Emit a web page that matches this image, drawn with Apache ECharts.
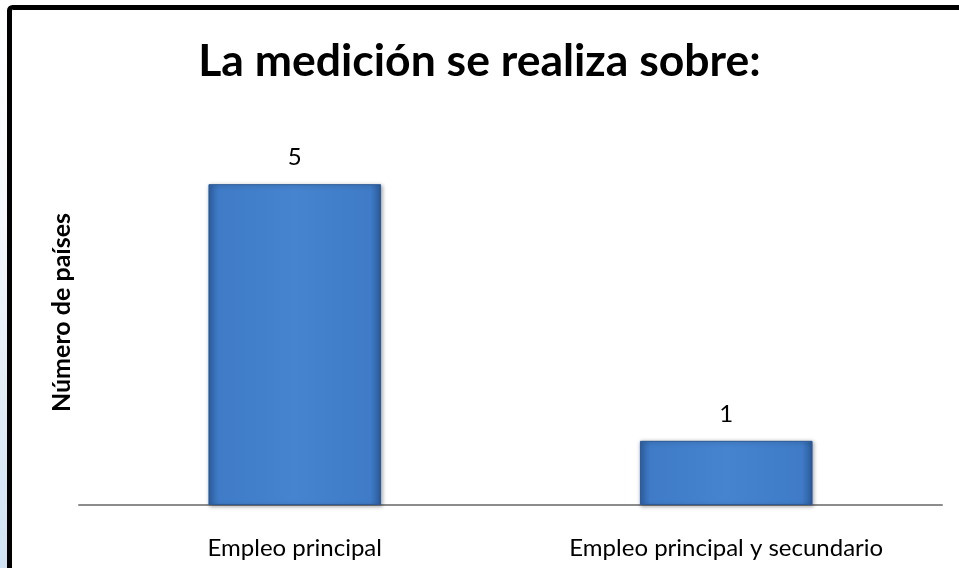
<!DOCTYPE html>
<html>
<head>
<meta charset="utf-8">
<script src="https://cdn.jsdelivr.net/npm/echarts@6/dist/echarts.min.js"></script>
<style>
html,body{margin:0;padding:0;background:#fff;}
#chart{width:959px;height:568px;}
</style>
</head>
<body>
<div id="chart"></div>
<script>
const titleText = 'La medición se realiza sobre:';
const yAxisName = 'Número de países';
const categories = ['Empleo principal', 'Empleo principal y secundario'];
const values = [5, 1];

const chart = echarts.init(document.getElementById('chart'));
const FONT = 'Lato';
const barGrad = new echarts.graphic.LinearGradient(0, 0, 1, 0, [
  {offset: 0, color: '#2f62a6'},
  {offset: 0.06, color: '#3f7bc6'},
  {offset: 0.5, color: '#4684d0'},
  {offset: 0.94, color: '#3f7bc6'},
  {offset: 1, color: '#2c5b9c'}
]);
chart.setOption({
  animation: false,
  backgroundColor: '#ffffff',
  graphic: [
    {type: 'rect', left: 0, top: 0, shape: {x: 0, y: 0, width: 8, height: 568},
     style: {fill: new echarts.graphic.LinearGradient(0, 0, 0, 1, [
       {offset: 0, color: '#ffffff'}, {offset: 0.4, color: '#f4f7fc'}, {offset: 1, color: '#cfe2f4'}])}, z: -1},
    {type: 'rect', shape: {x: 9.5, y: 7.5, width: 960, height: 570, r: 3},
     style: {fill: 'none', stroke: '#000', lineWidth: 5}, z: 10}
  ],
  title: {
    text: titleText, left: 'center', top: 34,
    textStyle: {fontFamily: FONT, fontSize: 44.5, fontWeight: 'bold', color: '#000'}
  },
  grid: {left: 79, right: 17, top: 120, bottom: 63},
  xAxis: {
    type: 'category', data: categories,
    axisLine: {lineStyle: {color: '#8c8c8c', width: 2}},
    axisTick: {show: false},
    axisLabel: {fontFamily: FONT, fontSize: 24, color: '#000', margin: 31}
  },
  yAxis: {
    type: 'value', min: 0, max: 6, interval: 1,
    axisLine: {show: false}, axisTick: {show: false}, axisLabel: {show: false},
    splitLine: {show: false},
    name: yAxisName, nameLocation: 'middle', nameGap: 5, nameRotate: 90,
    nameTextStyle: {fontFamily: FONT, fontSize: 25, fontWeight: 'bold', color: '#000'}
  },
  series: [{
    type: 'bar', data: values, barWidth: '40%',
    itemStyle: {color: barGrad, borderColor: '#2b5a97', borderWidth: 1,
      shadowColor: 'rgba(0,0,0,0.35)', shadowBlur: 4, shadowOffsetX: 1, shadowOffsetY: 1},
    label: {show: true, position: 'top', distance: 15, fontFamily: FONT, fontSize: 24, color: '#000'}
  }]
});
</script>
</body>
</html>
